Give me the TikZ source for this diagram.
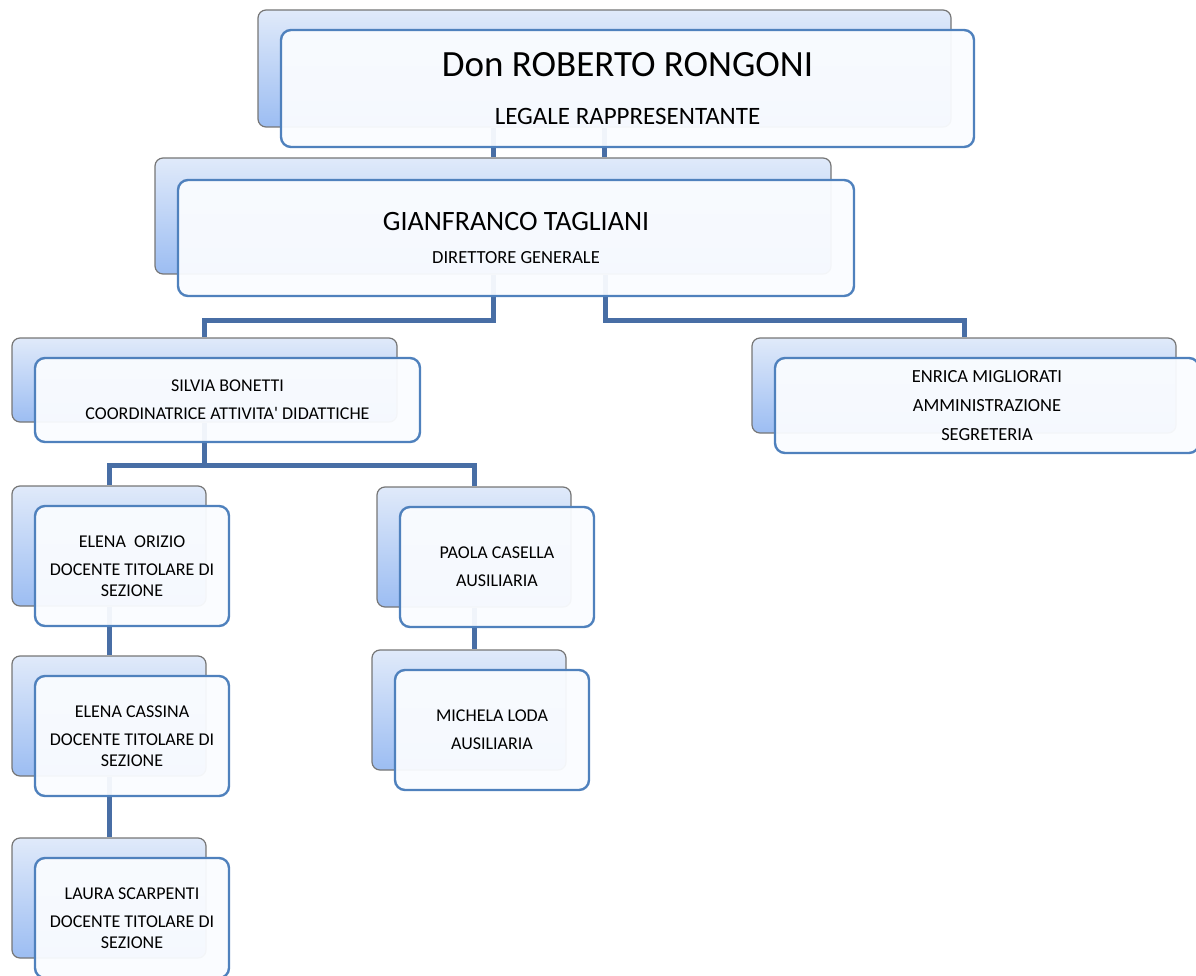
\documentclass[tikz,border=0pt]{standalone}
\usepackage{fontspec}
\setmainfont{Carlito}
\usetikzlibrary{calc, positioning}
\definecolor{backtop}{RGB}{224, 234, 250}
\definecolor{backbot}{RGB}{156, 189, 242}
\definecolor{backedge}{RGB}{118, 118, 118}
\definecolor{frontblue}{RGB}{79, 129, 189}
\definecolor{frontfill}{RGB}{250, 252, 255}
\definecolor{linkblue}{RGB}{72, 110, 165}

\begin{document}
\begin{tikzpicture}[
  x=1pt, y=-1pt,
  back/.style={draw=backedge, line width=1.2pt, rounded corners=8pt,
               top color=backtop, bottom color=backbot, inner sep=0pt},
  front/.style={draw=frontblue, line width=2.4pt, rounded corners=10pt,
                fill=frontfill, fill opacity=0.95, text opacity=1,
                inner sep=0pt, align=center,
                font=\fontsize{18}{28}\selectfont},
  link/.style={draw=linkblue, line width=5pt},
  box/.style 2 args={minimum width=#1pt, minimum height=#2pt}
]
  \useasboundingbox (0,0) rectangle (1196,976);

  % back panels
  \node[back, box={693}{117}] (rongoniB) at (604.5,68.5) {};
  \node[back, box={676}{116}] (taglianiB) at (493,216) {};
  \node[back, box={385}{84}] (bonettiB) at (204.5,380) {};
  \node[back, box={424}{95}] (miglioratiB) at (964,385.5) {};
  \node[back, box={194}{120}] (orizioB) at (109,546) {};
  \node[back, box={194}{120}] (casellaB) at (474,547) {};
  \node[back, box={194}{120}] (cassinaB) at (109,716) {};
  \node[back, box={194}{120}] (lodaB) at (469,710) {};
  \node[back, box={194}{120}] (scarpentiB) at (109,898) {};

  % connectors
  \draw[link] (rongoniB.south) -- (rongoniB.south |- taglianiB.north);
  \draw[link] (taglianiB.north) -- (taglianiB.north |- rongoniB.south);
  \draw[link] (taglianiB.south) -- ++(0,46) -| (bonettiB.north);
  \draw[link] ([xshift=112pt]taglianiB.south) -- ++(0,46) -| (miglioratiB.north);
  \draw[link] (bonettiB.south) -- ++(0,43) -| (orizioB.north);
  \draw[link] (bonettiB.south) -- ++(0,43) -| (casellaB.north);
  \draw[link] (orizioB.south) -- (cassinaB.north);
  \draw[link] (cassinaB.south) -- (scarpentiB.north);
  \draw[link] (casellaB.south) -- (casellaB.south |- lodaB.north);

  % front panels
  \node[front, box={693}{117}, font=\fontsize{25}{48}\selectfont] (rongoni)
    at ($(rongoniB)+(23,20)$)
    {{\fontsize{37}{48}\selectfont Don ROBERTO RONGONI}\\LEGALE RAPPRESENTANTE};
  \node[front, box={676}{116}, font=\fontsize{18.5}{33}\selectfont] (tagliani)
    at ($(taglianiB)+(23,22)$)
    {{\fontsize{28}{33}\selectfont GIANFRANCO TAGLIANI}\\DIRETTORE GENERALE};
  \node[front, box={385}{84}] (bonetti) at ($(bonettiB)+(23,20)$)
    {SILVIA BONETTI\\COORDINATRICE ATTIVITA\textquotesingle{} DIDATTICHE};
  \node[front, box={424}{95}, font=\fontsize{18.5}{29}\selectfont] (migliorati)
    at ($(miglioratiB)+(23,20)$)
    {ENRICA MIGLIORATI\\AMMINISTRAZIONE\\SEGRETERIA};
  \node[front, box={194}{120}] (orizio) at ($(orizioB)+(23,20)$)
    {ELENA\ \ ORIZIO\\DOCENTE TITOLARE DI\\[-7pt]SEZIONE};
  \node[front, box={194}{120}] (casella) at ($(casellaB)+(23,20)$)
    {PAOLA CASELLA\\AUSILIARIA};
  \node[front, box={194}{120}] (cassina) at ($(cassinaB)+(23,20)$)
    {ELENA CASSINA\\DOCENTE TITOLARE DI\\[-7pt]SEZIONE};
  \node[front, box={194}{120}] (loda) at ($(lodaB)+(23,20)$)
    {MICHELA LODA\\AUSILIARIA};
  \node[front, box={194}{120}] (scarpenti) at ($(scarpentiB)+(23,20)$)
    {LAURA SCARPENTI\\DOCENTE TITOLARE DI\\[-7pt]SEZIONE};
\end{tikzpicture}
\end{document}
